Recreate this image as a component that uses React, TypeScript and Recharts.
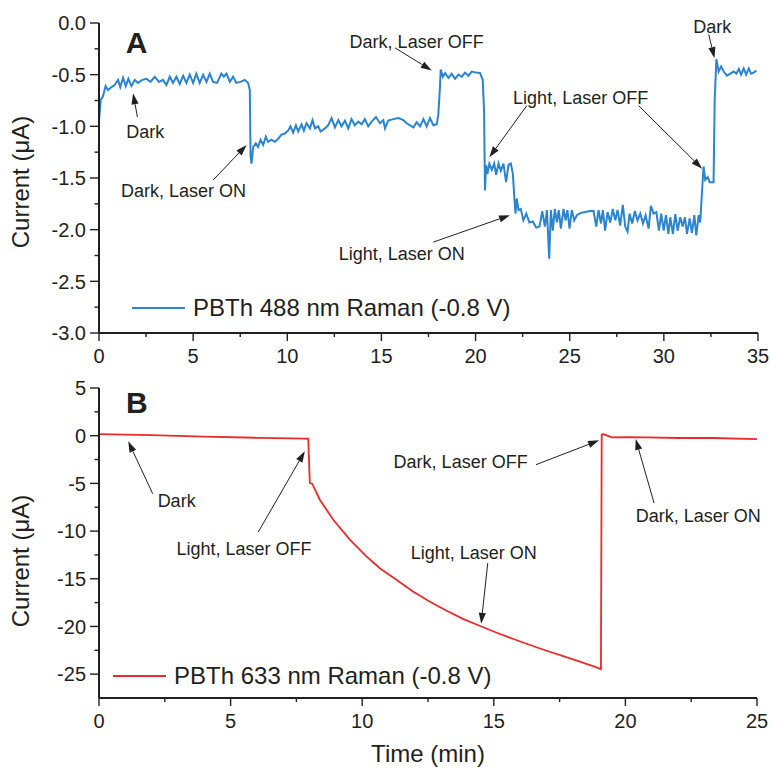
import React from "react";
import { LineChart, Line, XAxis, YAxis, ReferenceLine, ReferenceDot, Legend } from "recharts";

const FONT = '"Liberation Sans", Arial, Helvetica, sans-serif';
const INK = "#231f20";
const BLUE = "#2b84d0";
const RED = "#ed2a2a";

// panel A: 488 nm Raman, time (min) / current (uA)
const timeA = [
  0, 0.09, 0.21, 0.35, 0.48, 0.66, 0.83, 1.01, 1.13, 1.28,
  1.42, 1.56, 1.72, 1.9, 2.07, 2.3, 2.52, 2.73, 2.96, 3.19,
  3.4, 3.58, 3.76, 3.93, 4.11, 4.29, 4.47, 4.64, 4.82, 5.0,
  5.17, 5.35, 5.53, 5.71, 5.88, 6.06, 6.27, 6.5, 6.63, 6.77,
  6.95, 7.12, 7.3, 7.51, 7.74, 7.92, 8.01, 8.05, 8.1, 8.19,
  8.33, 8.45, 8.58, 8.72, 8.86, 8.98, 9.16, 9.34, 9.52, 9.69,
  9.87, 10.05, 10.17, 10.31, 10.46, 10.58, 10.76, 10.88, 11.02, 11.2,
  11.34, 11.47, 11.64, 11.77, 12.0, 12.17, 12.35, 12.53, 12.71, 12.88,
  13.06, 13.24, 13.41, 13.59, 13.77, 13.95, 14.12, 14.3, 14.48, 14.71,
  14.92, 15.1, 15.19, 15.36, 15.63, 15.9,
  16.16, 16.34, 16.52, 16.7, 16.87, 17.05, 17.23, 17.4, 17.58, 17.76,
  17.94, 18.02, 18.11, 18.15, 18.26, 18.38, 18.56, 18.73, 18.91, 19.09,
  19.27, 19.44, 19.62, 19.8, 20.03, 20.24, 20.38, 20.45, 20.5, 20.56,
  20.63, 20.73, 20.86, 20.99, 21.09, 21.22, 21.34, 21.48, 21.62, 21.75,
  21.87, 21.98, 22.07, 22.12, 22.19, 22.28, 22.4, 22.54, 22.69, 22.86,
  23.04, 23.22, 23.4, 23.54, 23.68, 23.79, 23.91, 24.0, 24.1, 24.21,
  24.32, 24.42, 24.53, 24.67, 24.78, 24.88, 24.99, 25.11, 25.24, 25.38,
  25.56, 25.82, 26.09, 26.27, 26.41, 26.53, 26.66, 26.76, 26.88, 27.01,
  27.15, 27.29, 27.42, 27.54, 27.68, 27.82, 27.95, 28.07, 28.18, 28.32,
  28.46, 28.6, 28.75, 28.89, 29.03, 29.19, 29.31, 29.45, 29.6, 29.74,
  29.86, 29.99, 30.11, 30.24, 30.34, 30.48, 30.61, 30.73, 30.87, 31.0,
  31.12, 31.23, 31.37, 31.49, 31.62, 31.72, 31.85, 31.93, 32.02, 32.11,
  32.2, 32.33, 32.43, 32.56, 32.64, 32.7, 32.79, 32.91, 33.04, 33.18,
  33.35, 33.53, 33.71, 33.85, 33.98, 34.1, 34.24, 34.37, 34.51, 34.63,
  34.77, 34.91,
];
const currentA = [
  -0.945, -0.744, -0.71, -0.61, -0.65, -0.62, -0.6, -0.55, -0.62, -0.53,
  -0.61, -0.54, -0.61, -0.55, -0.58, -0.55, -0.54, -0.57, -0.52, -0.57,
  -0.55, -0.6, -0.52, -0.58, -0.52, -0.59, -0.51, -0.58, -0.5, -0.58,
  -0.49, -0.58, -0.5, -0.57, -0.49, -0.57, -0.58, -0.49, -0.52, -0.49,
  -0.57, -0.52, -0.58, -0.57, -0.55, -0.58, -0.65, -1.29, -1.36, -1.2,
  -1.165, -1.2, -1.13, -1.18, -1.1, -1.15, -1.13, -1.15, -1.12, -1.08,
  -1.07, -1.04, -1.0, -1.06, -0.99, -1.05, -0.98, -1.04, -0.97, -1.02,
  -0.94, -1.02, -1.0, -1.05, -1.02, -0.99, -0.92, -1.01, -0.94, -1.0,
  -0.945, -1.02, -0.93, -0.99, -0.955, -0.98, -0.93, -1.0, -0.955, -0.91,
  -0.97, -0.94, -1.02, -0.945, -0.93, -0.92,
  -0.94, -0.97, -0.99, -1.01, -0.96, -1.0, -0.93, -1.0, -0.92, -0.99,
  -0.98, -0.89, -0.615, -0.45, -0.52, -0.485, -0.53, -0.49, -0.54, -0.5,
  -0.52, -0.48, -0.51, -0.47, -0.48, -0.485, -0.55, -0.84, -1.62, -1.375,
  -1.46, -1.36, -1.42, -1.36, -1.47, -1.36, -1.43, -1.36, -1.54, -1.37,
  -1.36, -1.46, -1.72, -1.845, -1.7, -1.81, -1.8, -1.91, -1.845, -1.93,
  -1.92, -1.98, -1.97, -1.82, -1.97, -1.81, -2.28, -1.81, -2.01, -1.8,
  -1.93, -1.81, -1.99, -1.8, -1.91, -1.81, -1.99, -1.81, -1.91, -1.86,
  -1.84, -1.83, -1.82, -1.82, -1.97, -1.81, -1.94, -1.81, -2.01, -1.83,
  -1.93, -1.8, -1.91, -1.81, -1.96, -1.76, -1.97, -2.02, -1.845, -1.94,
  -1.82, -1.91, -1.845, -1.94, -1.86, -1.99, -1.77, -1.845, -1.83, -2.01,
  -1.845, -2.01, -1.86, -2.04, -1.88, -2.04, -1.85, -2.01, -1.88, -1.97,
  -1.88, -2.04, -1.89, -2.03, -1.86, -2.055, -1.86, -1.93, -1.65, -1.39,
  -1.52, -1.49, -1.54, -1.54, -1.54, -0.74, -0.35, -0.47, -0.42, -0.47,
  -0.51, -0.49, -0.47, -0.49, -0.445, -0.5, -0.44, -0.5, -0.44, -0.49,
  -0.48, -0.46,
];

// panel B: 633 nm Raman
const timeB = [
  0, 2, 4, 6, 7.9, 7.95, 8.01, 8.1, 8.39, 8.9,
  9.53, 10.16, 10.67, 11.3, 11.93, 12.56, 13.19, 13.83, 14.46, 15.09,
  15.72, 16.35, 16.98, 17.61, 18.24, 18.88, 19.07, 19.1, 19.15, 19.49,
  20.14, 20.77, 22.03, 23.3, 25.0,
];
const currentB = [
  0.17, 0.05, -0.1, -0.22, -0.3, -0.31, -4.97, -5.03, -6.71, -8.81,
  -10.9, -12.66, -13.9, -15.1, -16.33, -17.38, -18.32, -19.2, -19.93, -20.63,
  -21.29, -21.92, -22.52, -23.08, -23.67, -24.27, -24.48, 0.1, 0.17, -0.17,
  -0.14, -0.17, -0.24, -0.24, -0.35,
];

const seriesA = "PBTh 488 nm Raman (-0.8 V)";
const seriesB = "PBTh 633 nm Raman (-0.8 V)";

const xMajorA = [0, 5, 10, 15, 20, 25, 30, 35];
const xMinorA = [2.5, 7.5, 12.5, 17.5, 22.5, 27.5, 32.5];
const yMajorA = [0, -0.5, -1, -1.5, -2, -2.5, -3];
const yMinorA = [-0.25, -0.75, -1.25, -1.75, -2.25, -2.75];
const xMajorB = [0, 5, 10, 15, 20, 25];
const xMinorB = [2.5, 7.5, 12.5, 17.5, 22.5];
const yMajorB = [5, 0, -5, -10, -15, -20, -25];
const yMinorB = [2.5, -2.5, -7.5, -12.5, -17.5, -22.5];

type Note = { text: string; at: [number, number]; arrows: [number, number][][] };

const notesA: Note[] = [
  { text: "Dark", at: [2.46, -1.05], arrows: [[[2.04, -0.91], [1.81, -0.68]]] },
  { text: "Dark, Laser ON", at: [4.49, -1.62], arrows: [[[6.06, -1.52], [7.84, -1.18]]] },
  { text: "Dark, Laser OFF", at: [16.87, -0.18], arrows: [[[15.72, -0.24], [17.67, -0.46]]] },
  {
    text: "Light, Laser OFF",
    at: [25.58, -0.72],
    arrows: [
      [[22.72, -0.8], [20.73, -1.3]],
      [[28.66, -0.8], [32.03, -1.41]],
    ],
  },
  { text: "Light, Laser ON", at: [16.08, -2.23], arrows: [[[17.76, -2.12], [21.83, -1.86]]] },
  { text: "Dark", at: [32.57, -0.035], arrows: [[[32.38, -0.11], [32.69, -0.34]]] },
];

const notesB: Note[] = [
  { text: "Dark", at: [2.95, -6.82], arrows: [[[2.04, -6.08], [1.11, -0.59]]] },
  { text: "Light, Laser OFF", at: [5.51, -11.85], arrows: [[[6.05, -10.1], [7.82, -1.64]]] },
  { text: "Dark, Laser OFF", at: [13.74, -2.73], arrows: [[[16.6, -3.04], [19.0, -0.49]]] },
  { text: "Dark, Laser ON", at: [22.77, -8.36], arrows: [[[21.09, -7.06], [20.39, -0.35]]] },
  { text: "Light, Laser ON", at: [14.24, -12.2], arrows: [[[14.77, -13.36], [14.52, -19.72]]] },
];

const dataA = timeA.map((t, i) => ({ t, i: currentA[i] }));
const dataB = timeB.map((t, i) => ({ t, i: currentB[i] }));

const Arrow = (p: any) => {
  const { x1, y1, x2, y2 } = p;
  const a = Math.atan2(y2 - y1, x2 - x1);
  const L = 11;
  const W = 3.6;
  const bx = x2 - L * Math.cos(a);
  const by = y2 - L * Math.sin(a);
  const pts = `${x2},${y2} ${bx + W * Math.sin(a)},${by - W * Math.cos(a)} ${bx - W * Math.sin(a)},${by + W * Math.cos(a)}`;
  return (
    <g>
      <line x1={x1} y1={y1} x2={bx} y2={by} stroke={INK} strokeWidth={1} />
      <polygon points={pts} fill={INK} />
    </g>
  );
};

const noteText = (text: string) => (p: any) => (
  <text x={p.cx} y={p.cy} dy="0.36em" textAnchor="middle" fontSize={18} fill={INK} fontFamily={FONT}>
    {text}
  </text>
);

const panelText = (text: string) => (p: any) => (
  <text x={p.cx} y={p.cy} textAnchor="middle" fontSize={30} fontWeight="bold" fill={INK} fontFamily={FONT}>
    {text}
  </text>
);

const yTick = (majors: number[], digits: number) => (p: any) => {
  const v = p.payload.value;
  const major = majors.includes(v);
  return (
    <g>
      <line x1={p.x} y1={p.y} x2={p.x - (major ? 9 : 4.5)} y2={p.y} stroke={INK} strokeWidth={1.4} />
      {major && (
        <text x={p.x - 13} y={p.y} dy="0.36em" textAnchor="end" fontSize={20} fill={INK} fontFamily={FONT}>
          {v.toFixed(digits)}
        </text>
      )}
    </g>
  );
};

const xTick = (majors: number[]) => (p: any) => {
  const v = p.payload.value;
  const major = majors.includes(v);
  return (
    <g>
      <line x1={p.x} y1={p.y} x2={p.x} y2={p.y + (major ? 8 : 4)} stroke={INK} strokeWidth={1.4} />
      {major && (
        <text x={p.x} y={p.y + 30} textAnchor="middle" fontSize={20} fill={INK} fontFamily={FONT}>
          {v}
        </text>
      )}
    </g>
  );
};

const yTitle = (shift: number) => (p: any) => {
  const vb = p.viewBox || {};
  const cy = (vb.y ?? 0) + (vb.height ?? 0) / 2 + shift;
  return (
    <text transform={`translate(29, ${cy}) rotate(-90)`} textAnchor="middle" fontSize={24} fill={INK} fontFamily={FONT}>
      Current (μA)
    </text>
  );
};

const xTitle = (p: any) => {
  const vb = p.viewBox || {};
  return (
    <text x={(vb.x ?? 0) + (vb.width ?? 0) / 2} y={(vb.y ?? 0) + 64} textAnchor="middle" fontSize={24} fill={INK} fontFamily={FONT}>
      Time (min)
    </text>
  );
};

const legendContent = (p: any) => {
  const item = (p.payload || [])[0];
  if (!item) return null;
  return (
    <div style={{ display: "flex", alignItems: "center", whiteSpace: "nowrap", fontFamily: FONT, fontSize: 24, color: INK }}>
      <svg width={53} height={4} style={{ display: "block" }}>
        <line x1={0} y1={2} x2={53} y2={2} stroke={item.color} strokeWidth={2} />
      </svg>
      <span style={{ marginLeft: 8 }}>{item.value}</span>
    </div>
  );
};

const renderNotes = (notes: Note[], key: string) =>
  notes.flatMap((n, k) => [
    <ReferenceDot key={`${key}t${k}`} x={n.at[0]} y={n.at[1]} ifOverflow="visible" shape={noteText(n.text)} />,
    ...n.arrows.map((seg, j) => (
      <ReferenceLine
        key={`${key}a${k}-${j}`}
        segment={[
          { x: seg[0][0], y: seg[0][1] },
          { x: seg[1][0], y: seg[1][1] },
        ]}
        ifOverflow="visible"
        shape={Arrow}
      />
    )),
  ]);

const axisLine = { stroke: INK, strokeWidth: 2 };

export default function App() {
  return (
    <div style={{ position: "absolute", left: 0, top: 0, width: 771, height: 769, background: "#fff", fontFamily: FONT }}>
      <div style={{ position: "absolute", left: 0, top: 0 }}>
        <LineChart width={771} height={370} data={dataA} margin={{ top: 23, right: 13, bottom: 0, left: 39 }}>
          <XAxis
            type="number"
            dataKey="t"
            domain={[0, 35]}
            ticks={[...xMajorA, ...xMinorA].sort((a, b) => a - b)}
            interval={0}
            tickSize={0}
            tickMargin={0}
            tick={xTick(xMajorA)}
            axisLine={axisLine}
            height={37}
          />
          <YAxis
            type="number"
            domain={[-3, 0]}
            ticks={[...yMajorA, ...yMinorA].sort((a, b) => b - a)}
            interval={0}
            tickSize={0}
            tickMargin={0}
            tick={yTick(yMajorA, 1)}
            axisLine={axisLine}
            width={60}
            label={yTitle(4)}
          />
          <Line
            type="linear"
            dataKey="i"
            name={seriesA}
            stroke={BLUE}
            strokeWidth={2}
            dot={false}
            activeDot={false}
            isAnimationActive={false}
          />
          <ReferenceDot x={2.0} y={-0.29} ifOverflow="visible" shape={panelText("A")} />
          {renderNotes(notesA, "A")}
          <Legend
            layout="horizontal"
            align="center"
            verticalAlign="middle"
            content={legendContent}
            wrapperStyle={{ top: 294, left: 132, width: "auto" }}
          />
        </LineChart>
      </div>
      <div style={{ position: "absolute", left: 0, top: 370 }}>
        <LineChart width={771} height={399} data={dataB} margin={{ top: 18, right: 14, bottom: 0, left: 39 }}>
          <XAxis
            type="number"
            dataKey="t"
            domain={[0, 25]}
            ticks={[...xMajorB, ...xMinorB].sort((a, b) => a - b)}
            interval={0}
            tickSize={0}
            tickMargin={0}
            tick={xTick(xMajorB)}
            axisLine={axisLine}
            height={71}
            label={xTitle}
          />
          <YAxis
            type="number"
            domain={[-27.5, 5]}
            ticks={[...yMajorB, ...yMinorB].sort((a, b) => b - a)}
            interval={0}
            tickSize={0}
            tickMargin={0}
            tick={yTick(yMajorB, 0)}
            axisLine={axisLine}
            width={60}
            label={yTitle(18)}
          />
          <Line
            type="linear"
            dataKey="i"
            name={seriesB}
            stroke={RED}
            strokeWidth={1.8}
            dot={false}
            activeDot={false}
            isAnimationActive={false}
          />
          <ReferenceDot x={1.44} y={2.41} ifOverflow="visible" shape={panelText("B")} />
          {renderNotes(notesB, "B")}
          <Legend
            layout="horizontal"
            align="center"
            verticalAlign="middle"
            content={legendContent}
            wrapperStyle={{ top: 292, left: 113, width: "auto" }}
          />
        </LineChart>
      </div>
    </div>
  );
}
